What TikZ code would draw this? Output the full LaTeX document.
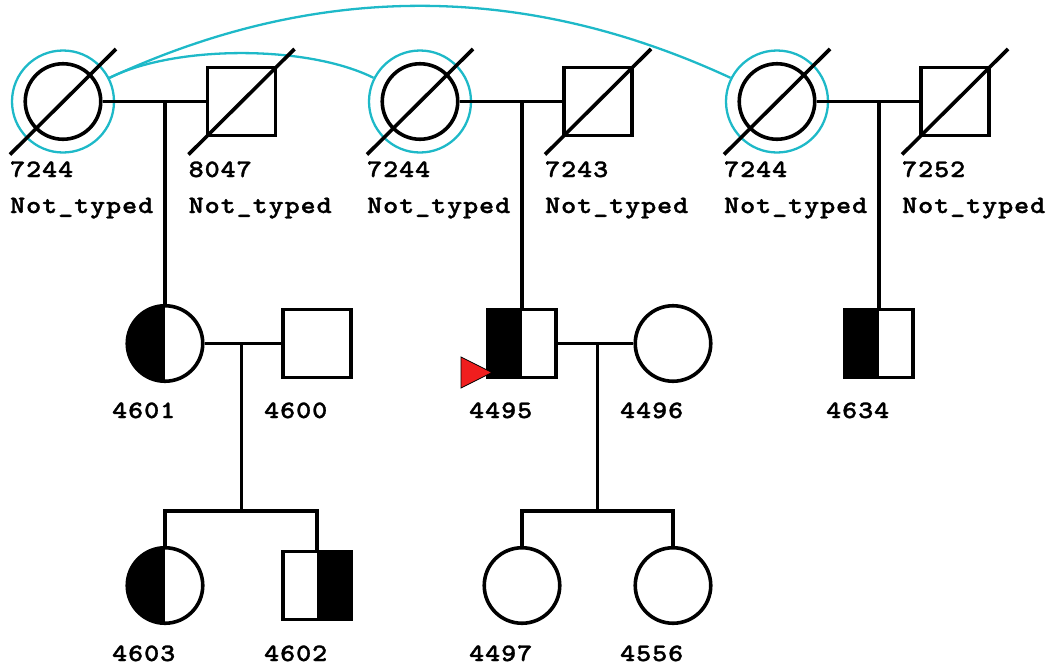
\documentclass[tikz,border=0pt]{standalone}
\usepackage{fontspec}
\newfontfamily\lblfont{lmmonolt10-bold.otf}[FakeStretch=1.15,FakeBold=1.2]
\definecolor{ringc}{RGB}{30,185,200}
\definecolor{probred}{RGB}{240,30,30}
\makeatletter
\newcommand\sptxt[1]{\@tfor\sp@ch:=#1\do{\makebox[16pt][c]{\sp@ch}}}
\makeatother
\begin{document}
\begin{tikzpicture}[x=1pt,y=-1pt,
  ind/.style={draw,line width=3.6pt,inner sep=0pt,fill=white},
  fem/.style={ind,circle,minimum size=75.5pt},
  mal/.style={ind,rectangle,minimum size=68pt},
  lhalf/.style={path picture={\fill[black] (path picture bounding box.south west) rectangle (path picture bounding box.north);}},
  rhalf/.style={path picture={\fill[black] (path picture bounding box.south) rectangle (path picture bounding box.north east);}},
  ring/.style={circle,draw=ringc,line width=2.3pt,minimum size=102pt,inner sep=0pt},
  link/.style={line width=3.6pt},
  kin/.style={draw=ringc,line width=2.3pt},
  dead/.style={line width=3.6pt},
  lbl/.style={anchor=base west,inner sep=0pt,font=\fontsize{25}{26}\lblfont},
]
\useasboundingbox (0,0) rectangle (1052,670);
% rings
\node[ring] (r1) at (63,101.5) {};
\node[ring] (r2) at (420,101.5) {};
\node[ring] (r3) at (777,101.5) {};
\draw[kin] (r1.27) .. controls +(66,-33) and +(-66,-33) .. (r2.153);
\draw[kin] (r1.27) .. controls +(207,-96) and +(-207,-96) .. (r3.153);
% coordinates
\coordinate (m1) at (165,101.5);
\coordinate (m2) at (522,101.5);
\coordinate (m3) at (879,101.5);
\coordinate (m4) at (241.5,343.5);
\coordinate (m5) at (597.5,343.5);
\coordinate (s1) at (241.5,511);
\coordinate (s2) at (597.5,511);
% top row
\node[fem] (A1) at (63,101.5) {};
\node[mal] (B1) at (241.5,101.5) {};
\node[fem] (A2) at (420,101.5) {};
\node[mal] (B2) at (598,101.5) {};
\node[fem] (A3) at (777,101.5) {};
\node[mal] (B3) at (955,101.5) {};
% second row
\node[fem,lhalf] (C1) at (165,343.5) {};
\node[mal] (D1) at (317,343.5) {};
\node[mal,lhalf] (C2) at (522,343.5) {};
\node[fem] (D2) at (673,343.5) {};
\node[mal,lhalf] (C3) at (879,343.5) {};
% third row
\node[fem,lhalf] (E1) at (165,585.5) {};
\node[mal,rhalf] (E2) at (317,585.5) {};
\node[fem] (E3) at (522,585.5) {};
\node[fem] (E4) at (673,585.5) {};
% connectors
\draw[link] (A1.east) -- (B1.west);
\draw[link] (A2.east) -- (B2.west);
\draw[link] (A3.east) -- (B3.west);
\draw[link] (m1) -- (C1.north);
\draw[link] (m2) -- (C2.north);
\draw[link] (m3) -- (C3.north);
\draw[link] (C1.east) -- (D1.west);
\draw[link] (C2.east) -- (D2.west);
\draw[link] (m4) -- (s1);
\draw[link] (m5) -- (s2);
\draw[link] (E1.north) -- (E1.north |- s1) -- (E2.north |- s1) -- (E2.north);
\draw[link] (E3.north) -- (E3.north |- s2) -- (E4.north |- s2) -- (E4.north);
% deceased slashes
\foreach \n in {A1,B1,A2,B2,A3,B3}
  \draw[dead] ([shift={(-53,53)}]\n.center) -- ([shift={(53,-52.5)}]\n.center);
% proband arrow
\draw[fill=probred,line width=0.8pt,line join=miter] ([shift={(-61,13.5)}]C2.center) -- ([shift={(-61,44.5)}]C2.center) -- ([shift={(-30,29)}]C2.center) -- cycle;
% labels
\node[lbl] (lA1) at (9.5,177) {\sptxt{7244}};
\node[lbl] (tA1) at (9.5,213) {\sptxt{Not\_typed}};
\node[lbl] (lB1) at (188,177) {\sptxt{8047}};
\node[lbl] (tB1) at (188,213) {\sptxt{Not\_typed}};
\node[lbl] (lA2) at (366.5,177) {\sptxt{7244}};
\node[lbl] (tA2) at (366.5,213) {\sptxt{Not\_typed}};
\node[lbl] (lB2) at (544.5,177) {\sptxt{7243}};
\node[lbl] (tB2) at (544.5,213) {\sptxt{Not\_typed}};
\node[lbl] (lA3) at (723.5,177) {\sptxt{7244}};
\node[lbl] (tA3) at (723.5,213) {\sptxt{Not\_typed}};
\node[lbl] (lB3) at (901.5,177) {\sptxt{7252}};
\node[lbl] (tB3) at (901.5,213) {\sptxt{Not\_typed}};
\node[lbl] (lC1) at (111.5,418) {\sptxt{4601}};
\node[lbl] (lD1) at (263.5,418) {\sptxt{4600}};
\node[lbl] (lC2) at (468.5,418) {\sptxt{4495}};
\node[lbl] (lD2) at (619.5,418) {\sptxt{4496}};
\node[lbl] (lC3) at (825.5,418) {\sptxt{4634}};
\node[lbl] (lE1) at (111.5,661) {\sptxt{4603}};
\node[lbl] (lE2) at (263.5,661) {\sptxt{4602}};
\node[lbl] (lE3) at (468.5,661) {\sptxt{4497}};
\node[lbl] (lE4) at (619.5,661) {\sptxt{4556}};
\end{tikzpicture}
\end{document}
